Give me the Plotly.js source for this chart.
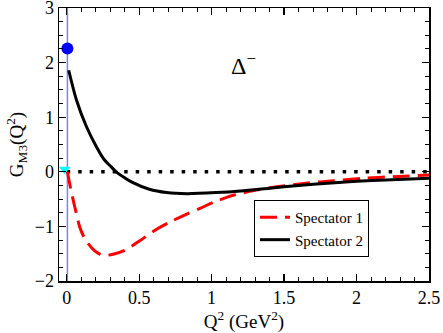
<!DOCTYPE html>
<html>
<head>
<meta charset="utf-8">
<script src="https://cdn.plot.ly/plotly-3.0.1.min.js"></script>
<style>
  html, body { margin: 0; padding: 0; background: #fff; }
  #chart { width: 443px; height: 333px; }
</style>
</head>
<body>
<div id="chart"></div>
<script>
// Spectator 2 (solid black)
const spec2X = [0.014, 0.067, 0.136, 0.205, 0.26, 0.3, 0.35, 0.4, 0.45, 0.57, 0.69, 0.83, 1.03, 1.2, 1.4, 1.6, 1.8, 2.0, 2.2, 2.5];
const spec2Y = [1.86, 1.32, 0.83, 0.46, 0.22, 0.11, -0.02, -0.11, -0.19, -0.32, -0.38, -0.40, -0.38, -0.35, -0.3, -0.25, -0.21, -0.175, -0.15, -0.12];

// Spectator 1 (dashed red)
const spec1X = [0.005, 0.02, 0.045, 0.07, 0.09, 0.12, 0.15, 0.19, 0.23, 0.27, 0.32, 0.4, 0.5, 0.61, 0.72, 0.84, 0.92, 1.02, 1.15, 1.3, 1.45, 1.65, 1.84, 2.05, 2.25, 2.5];
const spec1Y = [0, -0.21, -0.52, -0.8, -1.01, -1.2, -1.32, -1.44, -1.51, -1.53, -1.51, -1.44, -1.27, -1.07, -0.91, -0.76, -0.67, -0.55, -0.43, -0.34, -0.275, -0.21, -0.165, -0.12, -0.09, -0.06];

// reference lines and points at Q^2 = 0
const zeroLineX = [0, 2.5];
const zeroLineY = [0, 0];
const vLineX = [0.005, 0.005];
const vLineY = [-2, 3];
const dotX = [0.005], dotY = [2.26];
const triX = [-0.014], triY = [0.045];

const serif = "'Liberation Serif', 'Times New Roman', serif";

const data = [
    { x: vLineX, y: vLineY, mode: 'lines', showlegend: false,
      line: { color: '#7f7fff', width: 1.5 }, hoverinfo: 'skip' },
    { x: zeroLineX, y: zeroLineY, mode: 'lines', showlegend: false,
      line: { color: 'black', width: 3.5, dash: '3.5px,8px' } },
    { x: spec1X, y: spec1Y, mode: 'lines', name: 'Spectator 1',
      line: { color: '#ff0000', width: 3, dash: '17px,8px', shape: 'spline', smoothing: 0.8 } },
    { x: spec2X, y: spec2Y, mode: 'lines', name: 'Spectator 2',
      line: { color: 'black', width: 3, shape: 'spline', smoothing: 0.8 } },
    { x: dotX, y: dotY, mode: 'markers', showlegend: false,
      marker: { color: '#0000ff', size: 12 } },
    { x: triX, y: triY, mode: 'markers', showlegend: false,
      marker: { color: '#00ffff', size: 10, symbol: 'triangle-down' } }
];

const axisCommon = {
    showline: true, linecolor: 'black', linewidth: 1.5,
    mirror: 'ticks', ticks: 'inside', ticklen: 7, tickwidth: 1.2, tickcolor: 'black',
    showgrid: false, zeroline: false, ticklabeloverflow: 'allow',
    tickfont: { family: serif, size: 18, color: 'black' }
};

const layout = {
    width: 443, height: 333,
    margin: { l: 59, r: 14, t: 8, b: 52 },
    paper_bgcolor: 'white', plot_bgcolor: 'white',
    xaxis: Object.assign({}, axisCommon, {
        range: [-0.053, 2.5], dtick: 0.5, tick0: 0,
        minor: { dtick: 0.1, ticks: 'inside', ticklen: 4, tickcolor: 'black', tickwidth: 1 },
        title: { text: 'Q<sup>2</sup> (GeV<sup>2</sup>)', font: { family: serif, size: 19, color: 'black' }, standoff: 2 }
    }),
    yaxis: Object.assign({}, axisCommon, {
        range: [-2, 3], dtick: 1,
        minor: { dtick: 0.25, ticks: 'inside', ticklen: 4, tickcolor: 'black', tickwidth: 1 },
        title: { text: 'G<sub>M3</sub>(Q<sup>2</sup>)', font: { family: serif, size: 19, color: 'black' }, standoff: 6 }
    }),
    legend: {
        x: 0.527, y: 0.297, xanchor: 'left', yanchor: 'top',
        bgcolor: 'white', bordercolor: 'black', borderwidth: 1,
        font: { family: serif, size: 15, color: 'black' },
        tracegroupgap: 0
    },
    annotations: [{
        x: 1.22, y: 1.98, xref: 'x', yref: 'y', showarrow: false,
        text: 'Δ<sup>−</sup>', font: { family: serif, size: 24, color: 'black' }
    }]
};

Plotly.newPlot('chart', data, layout, { displayModeBar: false, staticPlot: true });
</script>
</body>
</html>
